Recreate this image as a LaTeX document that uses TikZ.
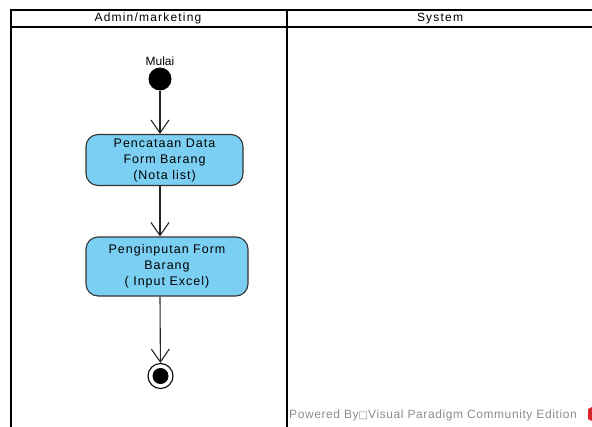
\documentclass[tikz,border=0pt]{standalone}
\usepackage{fontspec}
\setmainfont{Liberation Sans}
\newfontfamily\symfont{DejaVu Sans}
\newfontfamily\spacedfont[LetterSpace=8]{Liberation Sans}
\newfontfamily\wideheadfont[LetterSpace=10]{Liberation Sans}
\newfontfamily\wmfont[LetterSpace=5]{Liberation Sans}
\usetikzlibrary{arrows.meta}
\definecolor{actfill}{HTML}{7BCFF2}
\definecolor{wmgray}{HTML}{8C8C8C}
\definecolor{vpred}{HTML}{D9262B}
\begin{document}
\begin{tikzpicture}[x=1pt,y=-1pt,
  lane/.style={draw=black,line width=1.6pt},
  action/.style={draw=black!80,line width=1.1pt,fill=actfill,rounded corners=12pt,
    align=center,font=\spacedfont\fontsize{12.5}{16}\selectfont,inner sep=0pt},
  flow/.style={draw=black!85,line width=1.1pt,-{Straight Barb[length=13pt,width=18pt,line width=1.1pt]}},
  hdr/.style={font=\wideheadfont\fontsize{12}{13}\selectfont}]
\useasboundingbox (0,0) rectangle (592,426);
% swimlanes
\draw[lane] (11,430) -- (11,10) -- (600,10);
\draw[lane] (11,27) -- (600,27);
\draw[lane] (287,10) -- (287,430);
\node[hdr] (h1) at (148,18.5) {Admin/marketing};
\node[hdr] (h2) at (440,18.5) {System};
% start
\node[circle,fill=black,minimum size=23pt,inner sep=0pt] (start) at (160,79) {};
\node[font=\fontsize{12}{14}\selectfont] (mulai) at (160,61) {Mulai};
% actions
\node[action,minimum width=157pt,minimum height=51pt] (a1) at (164.5,160) {Pencataan Data\\Form Barang\\(Nota list)};
\node[action,minimum width=162pt,minimum height=59pt] (a2) at (167,266.5) {Penginputan Form\\Barang\\( Input Excel)};
% end
\node[circle,draw=black,line width=1.1pt,fill=white,minimum size=25pt,inner sep=0pt] (end) at (160.5,376) {};
\node[circle,fill=black,minimum size=16pt,inner sep=0pt] (endin) at (end.center) {};
% flows
\draw[flow] (start) -- (start |- a1.north);
\draw[flow] (start |- a1.south) -- (start |- a2.north);
\draw[flow] (start |- a2.south) -- (end);
% watermark
\node[anchor=west,text=wmgray,font=\wmfont\fontsize{12}{14}\selectfont,inner sep=0pt] (wm) at (289,415) {Powered By{\symfont\fontsize{10}{11}\selectfont □}Visual Paradigm Community Edition};
\fill[vpred] (588,409) -- (594,406) -- (594,422) -- (588,419) -- cycle;
\end{tikzpicture}
\end{document}
